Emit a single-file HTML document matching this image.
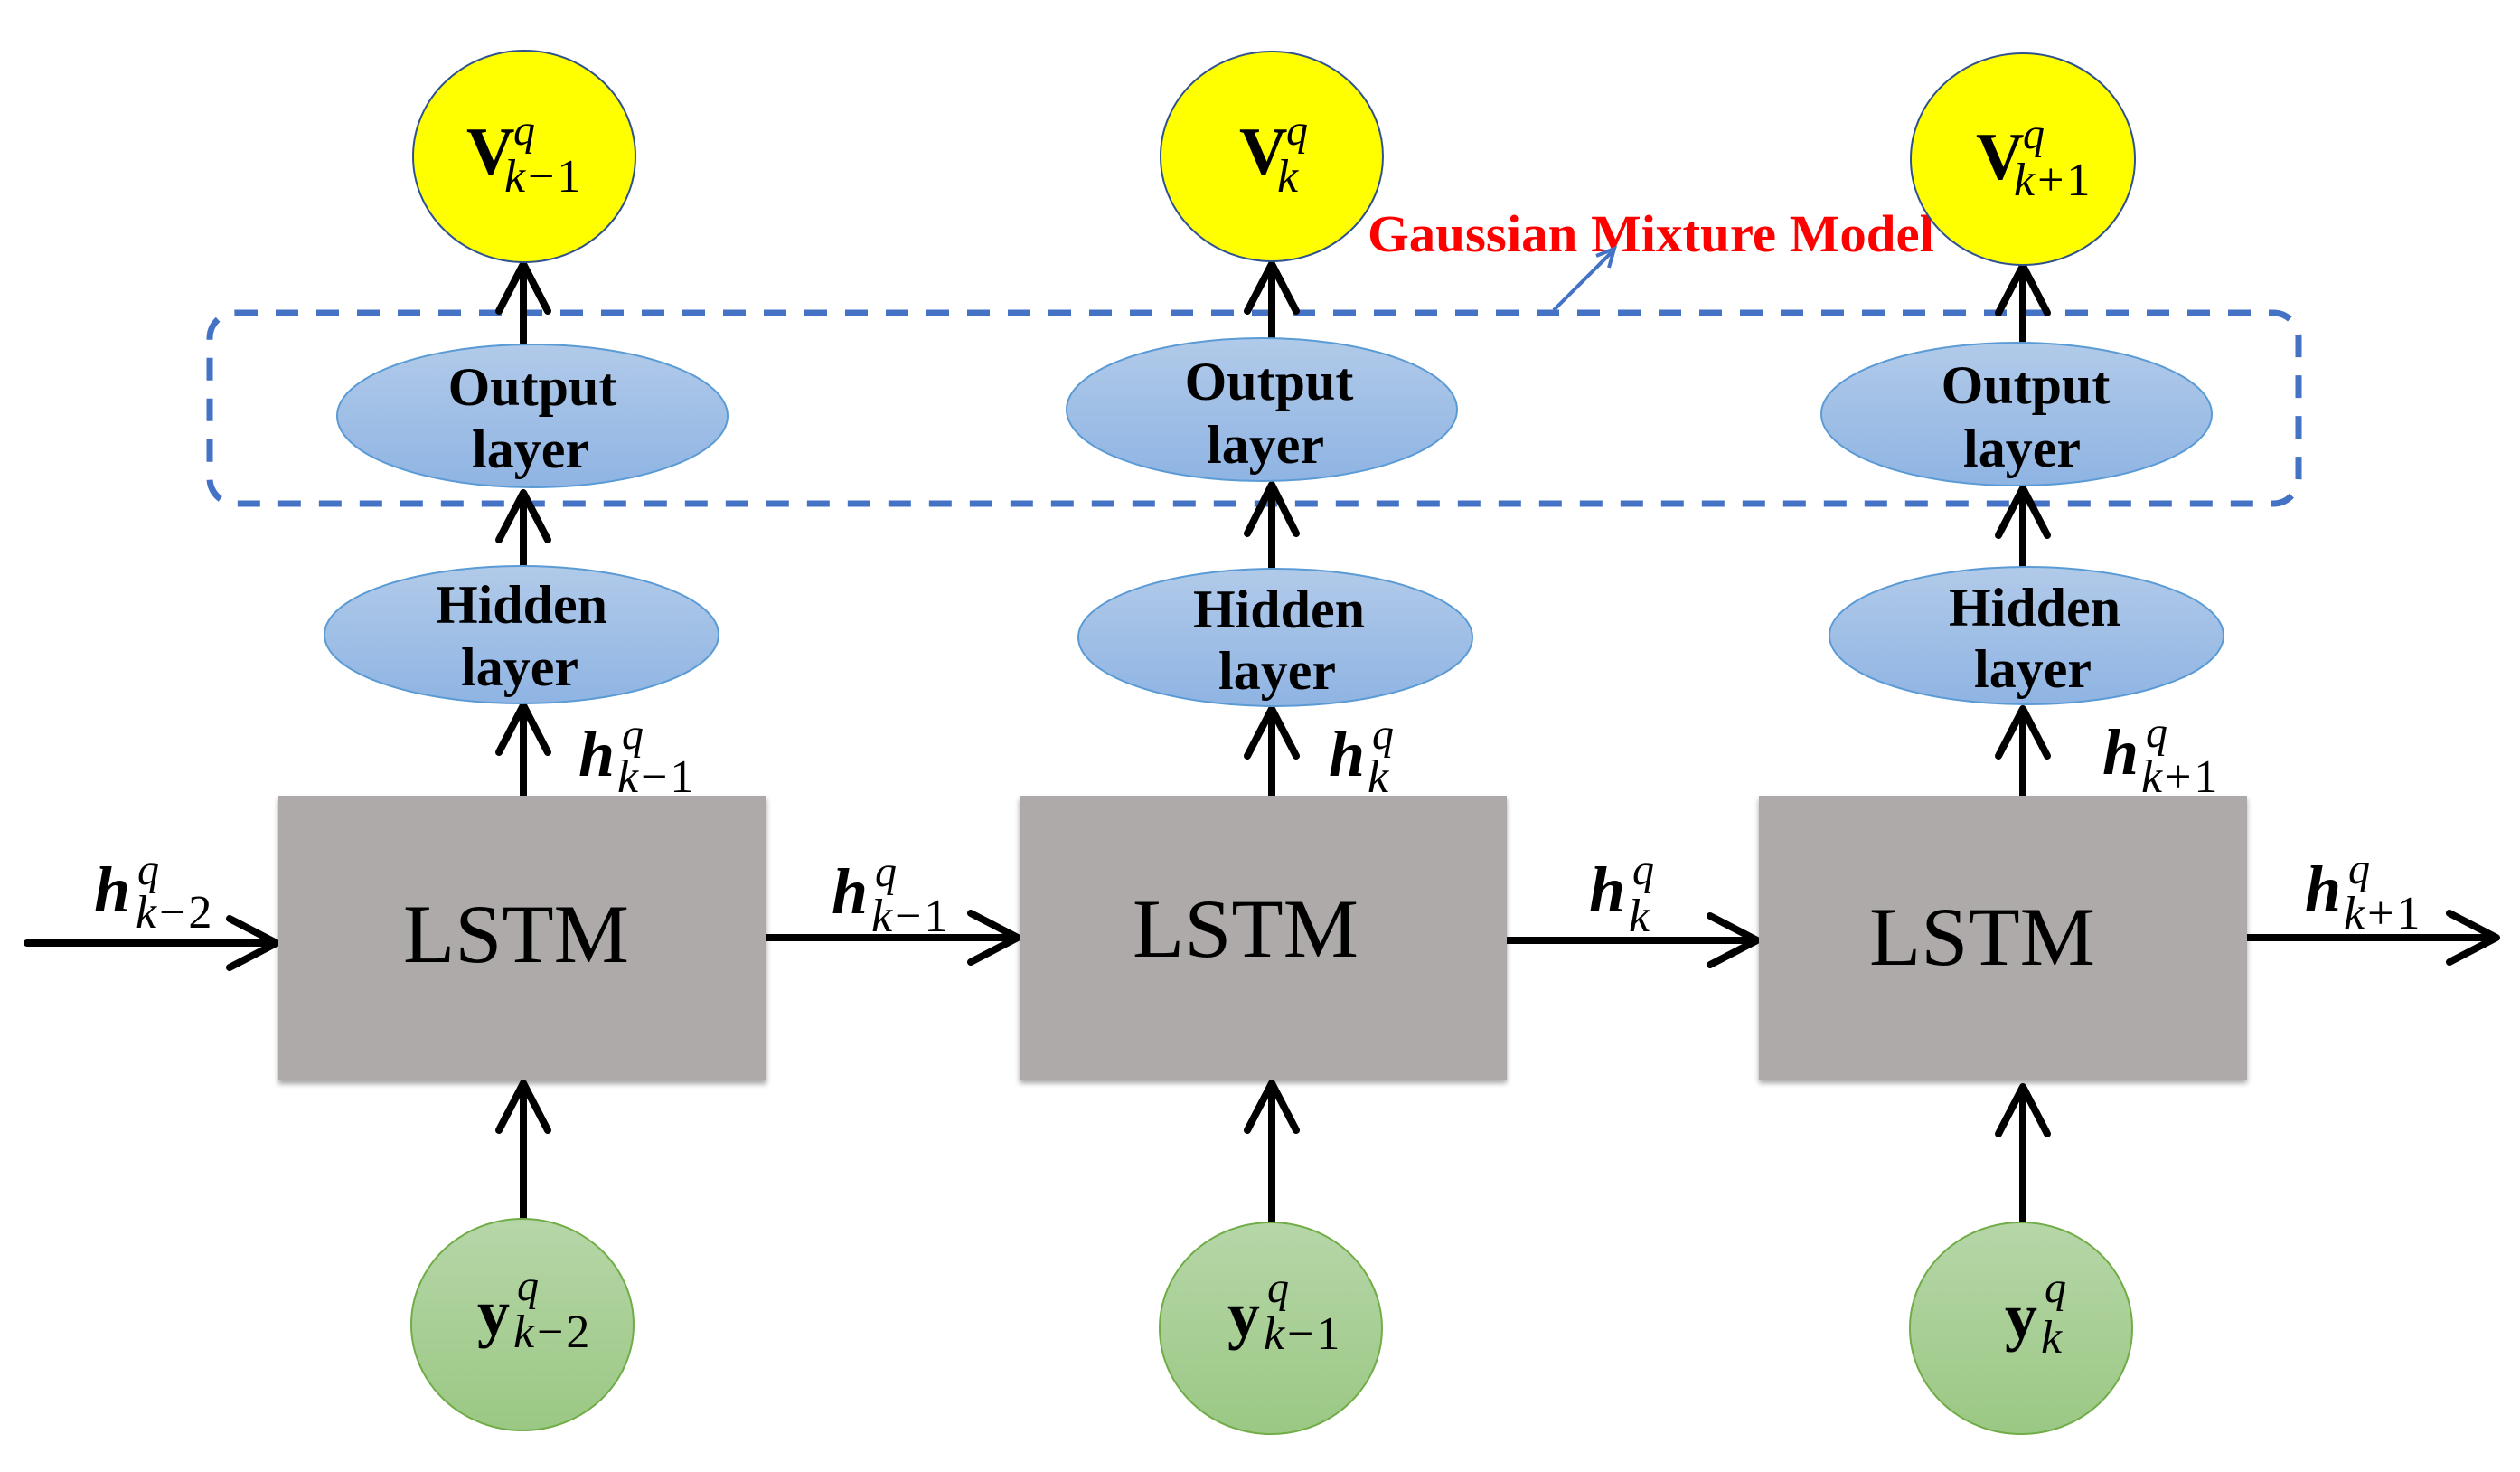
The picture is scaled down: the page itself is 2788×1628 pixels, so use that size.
<!DOCTYPE html>
<html><head><meta charset="utf-8"><style>
html,body{margin:0;padding:0;background:#fff;}
svg{display:block;}
.lbl{font-family:"Liberation Serif",serif;font-weight:bold;font-size:60px;fill:#000;}
.ls{font-family:"Liberation Serif",serif;font-size:92px;fill:#000;}
.m{font-family:"Liberation Serif",serif;fill:#000;}
.s{font-size:52px;letter-spacing:3px;}
</style></head><body>
<svg width="2788" height="1628" viewBox="0 0 2788 1628" xmlns="http://www.w3.org/2000/svg">
<defs>
<linearGradient id="bl" x1="0" y1="0" x2="0" y2="1"><stop offset="0" stop-color="#b1cae9"/><stop offset="1" stop-color="#8fb4e3"/></linearGradient>
<linearGradient id="gr" x1="0" y1="0" x2="0" y2="1"><stop offset="0" stop-color="#b6d6a8"/><stop offset="1" stop-color="#9bc884"/></linearGradient>
<filter id="sh" x="-5%" y="-5%" width="110%" height="115%"><feDropShadow dx="0" dy="4" stdDeviation="3" flood-opacity="0.35"/></filter>
</defs>

<rect x="232" y="346" width="2311" height="211" rx="28" fill="none" stroke="#4472c4" stroke-width="7" stroke-dasharray="25 20"/>
<text x="1513" y="278" font-family="Liberation Serif,serif" font-weight="bold" font-size="58" fill="#ff0000" textLength="627" lengthAdjust="spacingAndGlyphs">Gaussian Mixture Model</text>
<line x1="1719" y1="343" x2="1783" y2="279" stroke="#4472c4" stroke-width="4"/>
<polyline points="1766,283 1786,275 1780,296" fill="none" stroke="#4472c4" stroke-width="4"/>

<g stroke="#000" stroke-width="8" fill="none" stroke-linecap="round" stroke-linejoin="round">
<line x1="579" y1="379" x2="579" y2="294"/><polyline points="552,344 579,292 606,344"/>
<line x1="579" y1="626" x2="579" y2="546"/><polyline points="552,597 579,545 606,597"/>
<line x1="579" y1="880" x2="579" y2="782"/><polyline points="552,832 579,780 606,832"/>
<line x1="579" y1="1348" x2="579" y2="1200"/><polyline points="552,1250 579,1198 606,1250"/>

<line x1="1407" y1="374" x2="1407" y2="294"/><polyline points="1380,344 1407,292 1434,344"/>
<line x1="1407" y1="630" x2="1407" y2="538"/><polyline points="1380,590 1407,536 1434,590"/>
<line x1="1407" y1="880" x2="1407" y2="786"/><polyline points="1380,836 1407,784 1434,836"/>
<line x1="1407" y1="1352" x2="1407" y2="1200"/><polyline points="1380,1250 1407,1198 1434,1250"/>

<line x1="2238" y1="379" x2="2238" y2="296"/><polyline points="2211,346 2238,294 2265,346"/>
<line x1="2238" y1="628" x2="2238" y2="542"/><polyline points="2211,592 2238,540 2265,592"/>
<line x1="2238" y1="880" x2="2238" y2="786"/><polyline points="2211,836 2238,784 2265,836"/>
<line x1="2238" y1="1352" x2="2238" y2="1204"/><polyline points="2211,1254 2238,1202 2265,1254"/>

<line x1="30" y1="1043" x2="304" y2="1043"/><polyline points="254,1016 306,1043 254,1070"/>
<line x1="848" y1="1037" x2="1124" y2="1037"/><polyline points="1074,1010 1126,1037 1074,1064"/>
<line x1="1667" y1="1040" x2="1942" y2="1040"/><polyline points="1892,1013 1944,1040 1892,1067"/>
<line x1="2486" y1="1037" x2="2760" y2="1037"/><polyline points="2710,1010 2762,1037 2710,1064"/>
</g>

<ellipse cx="580" cy="173" rx="123" ry="117" fill="#ffff00" stroke="#2f528f" stroke-width="2"/>
<ellipse cx="1407" cy="173" rx="123" ry="116" fill="#ffff00" stroke="#2f528f" stroke-width="2"/>
<ellipse cx="2238" cy="176" rx="124" ry="117" fill="#ffff00" stroke="#2f528f" stroke-width="2"/>
<ellipse cx="589" cy="460" rx="216" ry="79" fill="url(#bl)" stroke="#5b9bd5" stroke-width="2"/>
<ellipse cx="1396" cy="453" rx="216" ry="79" fill="url(#bl)" stroke="#5b9bd5" stroke-width="2"/>
<ellipse cx="2231" cy="458" rx="216" ry="79" fill="url(#bl)" stroke="#5b9bd5" stroke-width="2"/>
<ellipse cx="577" cy="702" rx="218" ry="76" fill="url(#bl)" stroke="#5b9bd5" stroke-width="2"/>
<ellipse cx="1411" cy="705" rx="218" ry="76" fill="url(#bl)" stroke="#5b9bd5" stroke-width="2"/>
<ellipse cx="2242" cy="703" rx="218" ry="76" fill="url(#bl)" stroke="#5b9bd5" stroke-width="2"/>
<ellipse cx="578" cy="1465" rx="123" ry="117" fill="url(#gr)" stroke="#70ad47" stroke-width="2"/>
<ellipse cx="1406" cy="1469" rx="123" ry="117" fill="url(#gr)" stroke="#70ad47" stroke-width="2"/>
<ellipse cx="2236" cy="1469" rx="123" ry="117" fill="url(#gr)" stroke="#70ad47" stroke-width="2"/>
<rect x="308" y="880" width="540" height="315" fill="#aeaaaa" filter="url(#sh)"/>
<rect x="1128" y="880" width="539" height="314" fill="#aeaaaa" filter="url(#sh)"/>
<rect x="1946" y="880" width="540" height="314" fill="#aeaaaa" filter="url(#sh)"/>
<text class="ls" x="446" y="1064" textLength="250" lengthAdjust="spacingAndGlyphs">LSTM</text>
<text class="ls" x="1253" y="1058" textLength="250" lengthAdjust="spacingAndGlyphs">LSTM</text>
<text class="ls" x="2068" y="1067" textLength="250" lengthAdjust="spacingAndGlyphs">LSTM</text>

<g class="lbl" text-anchor="middle">
<text x="589" y="448">Output</text><text x="587" y="517">layer</text>
<text x="577" y="689">Hidden</text><text x="575" y="758">layer</text>
<text x="1404" y="442">Output</text><text x="1400" y="512">layer</text>
<text x="1415" y="694">Hidden</text><text x="1413" y="762">layer</text>
<text x="2241" y="446">Output</text><text x="2237" y="516">layer</text>
<text x="2251" y="692">Hidden</text><text x="2249" y="760">layer</text>
</g>

<g class="m">
<text x="516" y="192" font-size="74" font-weight="bold">V</text><text x="568" y="160" font-size="48" font-style="italic">q</text><text class="s" x="558" y="212"><tspan font-style="italic">k</tspan>−1</text>
<text x="1371" y="192" font-size="74" font-weight="bold">V</text><text x="1423" y="160" font-size="48" font-style="italic">q</text><text class="s" x="1413" y="212" font-style="italic">k</text>
<text x="2186" y="198" font-size="74" font-weight="bold">V</text><text x="2238" y="164" font-size="48" font-style="italic">q</text><text class="s" x="2228" y="216"><tspan font-style="italic">k</tspan>+1</text>
<text x="528" y="1476" font-size="72" font-weight="bold">y</text><text x="572" y="1438" font-size="48" font-style="italic">q</text><text class="s" x="568" y="1490"><tspan font-style="italic">k</tspan>−2</text>
<text x="1358" y="1478" font-size="72" font-weight="bold">y</text><text x="1402" y="1440" font-size="48" font-style="italic">q</text><text class="s" x="1398" y="1492"><tspan font-style="italic">k</tspan>−1</text>
<text x="2218" y="1480" font-size="72" font-weight="bold">y</text><text x="2262" y="1440" font-size="48" font-style="italic">q</text><text class="s" x="2258" y="1496" font-style="italic">k</text>
<text x="640" y="858" font-size="72" font-weight="bold" font-style="italic">h</text><text x="688" y="828" font-size="48" font-style="italic">q</text><text class="s" x="683" y="876"><tspan font-style="italic">k</tspan>−1</text>
<text x="1470" y="858" font-size="72" font-weight="bold" font-style="italic">h</text><text x="1518" y="828" font-size="48" font-style="italic">q</text><text class="s" x="1513" y="876" font-style="italic">k</text>
<text x="2326" y="856" font-size="72" font-weight="bold" font-style="italic">h</text><text x="2374" y="826" font-size="48" font-style="italic">q</text><text class="s" x="2369" y="876"><tspan font-style="italic">k</tspan>+1</text>
<text x="104" y="1008" font-size="72" font-weight="bold" font-style="italic">h</text><text x="152" y="978" font-size="48" font-style="italic">q</text><text class="s" x="150" y="1026"><tspan font-style="italic">k</tspan>−2</text>
<text x="920" y="1010" font-size="72" font-weight="bold" font-style="italic">h</text><text x="968" y="980" font-size="48" font-style="italic">q</text><text class="s" x="964" y="1030"><tspan font-style="italic">k</tspan>−1</text>
<text x="1758" y="1008" font-size="72" font-weight="bold" font-style="italic">h</text><text x="1806" y="978" font-size="48" font-style="italic">q</text><text class="s" x="1802" y="1030" font-style="italic">k</text>
<text x="2550" y="1007" font-size="72" font-weight="bold" font-style="italic">h</text><text x="2598" y="977" font-size="48" font-style="italic">q</text><text class="s" x="2593" y="1027"><tspan font-style="italic">k</tspan>+1</text>
</g>
</svg>
</body></html>
